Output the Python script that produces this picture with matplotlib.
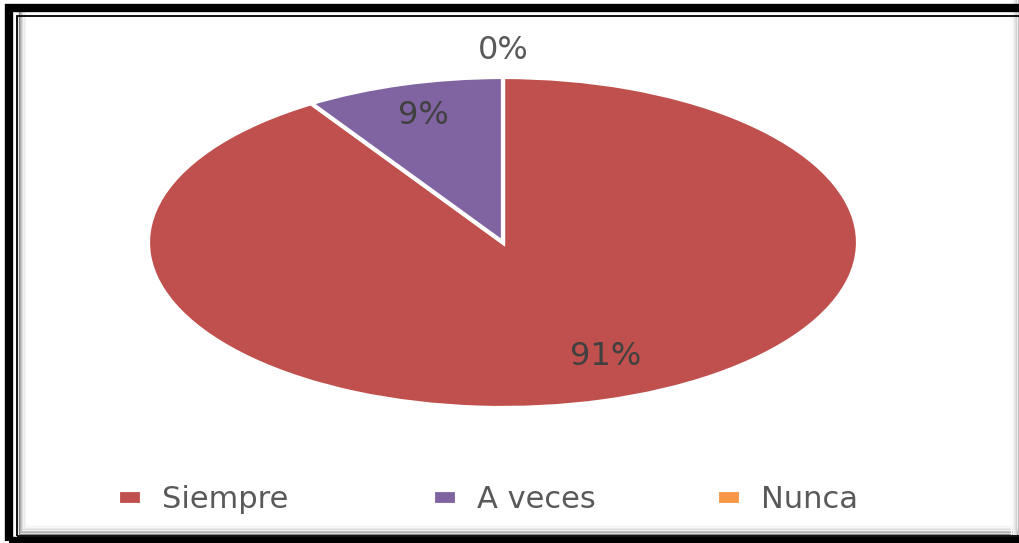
import matplotlib.pyplot as plt
from matplotlib.patches import Rectangle
import numpy as np

# datos de la encuesta
categorias = ['Siempre', 'A veces', 'Nunca']
valores = [20, 2, 0]
colores = ['#C0504D', '#8064A2', '#F79646']

W, H = 1019, 543
fig = plt.figure(figsize=(W / 100, H / 100), dpi=100)
fig.patch.set_facecolor('white')

# marco negro tipo Word
def px_rect(x0, y0, x1, y1, **kw):
    r = Rectangle((x0 / W, 1 - y1 / H), (x1 - x0) / W, (y1 - y0) / H,
                  transform=fig.transFigure, fill=False, **kw)
    fig.patches.append(r)

# sombra interior (izquierda y abajo)
grises = ['#8a8a8a', '#a8a8a8', '#c4c4c4', '#dadada', '#eaeaea', '#f5f5f5']
for i, g in enumerate(grises):
    px_rect(18.5 + i * 1.3, 10, 1040, 534 - i * 1.6, edgecolor=g, linewidth=1.0)
# sombra del borde derecho
for i, g in enumerate(['#b4b4b4', '#c2c2c2', '#d0d0d0', '#dddddd', '#e8e8e8', '#f2f2f2', '#f9f9f9']):
    px_rect(-20, -20, 1019 - i * 1.3, 600, edgecolor=g, linewidth=1.0)

px_rect(9, 8, 1040, 541, edgecolor='black', linewidth=6)
px_rect(17, 16, 1040, 535.5, edgecolor='black', linewidth=1.3)

# pastel (elipse, sin aspecto igual)
ax = fig.add_axes([148 / W, (H - 408) / H, 710 / W, 331 / H])
wedges, textos, autotextos = ax.pie(
    valores, colors=colores, startangle=90, counterclock=False,
    autopct='%.0f%%', pctdistance=0.8,
    wedgeprops=dict(edgecolor='white', linewidth=3),
    textprops=dict(color='#404040', fontsize=23))
ax.set_aspect('auto')
ax.set_xlim(-1, 1)
ax.set_ylim(-1, 1)

# etiqueta 0% fuera del pastel
w0 = wedges[2]
ang = np.deg2rad((w0.theta1 + w0.theta2) / 2)
autotextos[2].set_position((1.16 * np.cos(ang), 1.16 * np.sin(ang)))
autotextos[2].set_color('#595959')
autotextos[0].set_position((0.29, -0.69))

# leyenda: una entrada por posición
x_marcas = [118, 433, 717]
for w, cat, xm in zip(wedges, categorias, x_marcas):
    leg = fig.legend([w], [cat], loc='center left', bbox_to_anchor=(xm / W, 1 - 500 / H),
                     frameon=False, handlelength=0.8, handleheight=0.4,
                     handletextpad=0.65, borderpad=0, borderaxespad=0, fontsize=22)
    leg.get_texts()[0].set_color('#595959')

fig.savefig('out.png', dpi=100)
